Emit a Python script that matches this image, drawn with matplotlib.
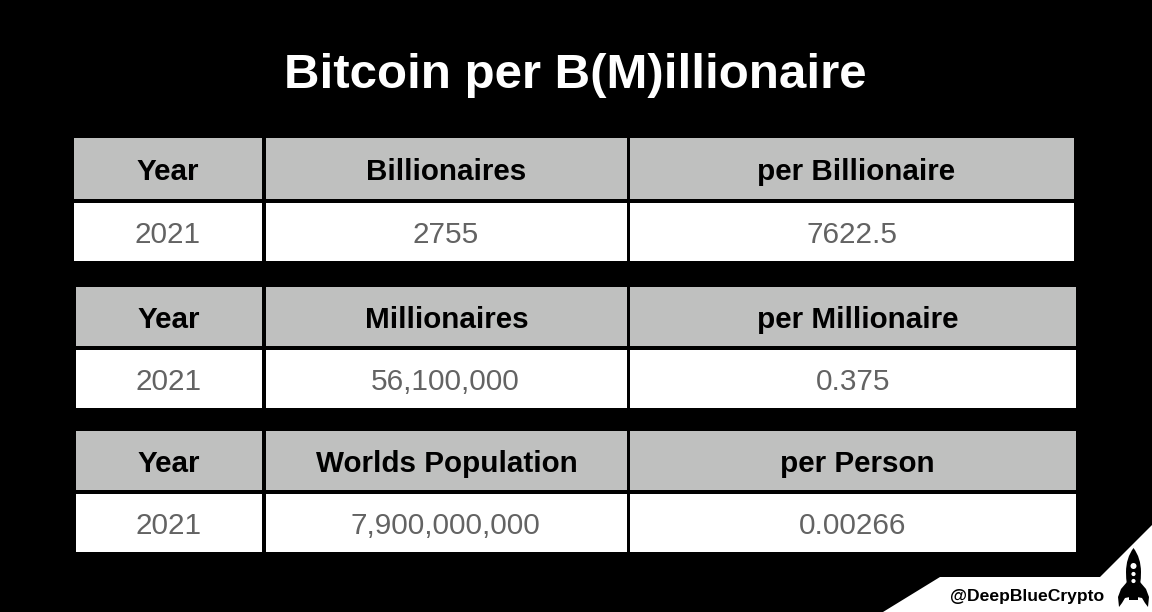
import matplotlib
matplotlib.use('Agg')
import matplotlib.pyplot as plt
from matplotlib.patches import Polygon, Rectangle, Circle, PathPatch
from matplotlib.path import Path

plt.rcParams['font.family'] = ['Liberation Sans', 'DejaVu Sans']

TITLE = 'Bitcoin per B(M)illionaire'
HANDLE = '@DeepBlueCrypto'

# one list per table, header row then value row
headers_1 = ['Year', 'Billionaires', 'per Billionaire']
values_1 = ['2021', '2755', '7622.5']
headers_2 = ['Year', 'Millionaires', 'per Millionaire']
values_2 = ['2021', '56,100,000', '0.375']
headers_3 = ['Year', 'Worlds Population', 'per Person']
values_3 = ['2021', '7,900,000,000', '0.00266']

HEADER_GREY = '#bfc0bf'
VALUE_GREY = '#636363'

# layout in pixels: column edges, header top/bottom, value top/bottom
layout = [
    (headers_1, values_1, [(74, 262), (266, 627), (630, 1074)], (138, 199), (203, 261)),
    (headers_2, values_2, [(76, 262), (266, 627), (630, 1076)], (287, 346), (350, 408)),
    (headers_3, values_3, [(76, 262), (266, 627), (630, 1076)], (431, 490), (494, 552)),
]
# text nudges per column, the source table is not quite centred
header_nudge = [0, 0, 4.5]
value_nudge = [0, -1, 0]

fig = plt.figure(figsize=(11.52, 6.12), dpi=100, facecolor='black')
ax = fig.add_axes([0, 0, 1, 1])
ax.set_xlim(0, 1152)
ax.set_ylim(612, 0)
ax.axis('off')

ax.text(575.5, 75, TITLE, color='white', fontsize=35.5, fontweight='bold',
        ha='center', va='center')

for headers, values, cols, head_y, val_y in layout:
    for i, (x0, x1) in enumerate(cols):
        ax.add_patch(Rectangle((x0, head_y[0]), x1 - x0, head_y[1] - head_y[0],
                               fc=HEADER_GREY, ec='none'))
        ax.add_patch(Rectangle((x0, val_y[0]), x1 - x0, val_y[1] - val_y[0],
                               fc='white', ec='none'))
        xc = (x0 + x1) / 2
        ax.text(xc + header_nudge[i], (head_y[0] + head_y[1]) / 2 + 3, headers[i],
                color='black', fontsize=21.3, fontweight='bold',
                ha='center', va='center')
        ax.text(xc + value_nudge[i], (val_y[0] + val_y[1]) / 2 + 3, values[i],
                color=VALUE_GREY, fontsize=21.4, ha='center', va='center')

# white corner with the handle
ax.add_patch(Polygon([(883, 612), (940, 577), (1100, 577), (1152, 525), (1152, 612)],
                     fc='white', ec='none'))
ax.text(1027, 596, HANDLE, color='black', fontsize=12.6, fontweight='bold',
        ha='center', va='center')

# rocket
body = Path([(1133.5, 548), (1126, 558), (1126, 572), (1126, 585), (1129, 596),
             (1138, 596), (1141, 585), (1141, 572), (1141, 558), (1133.5, 548),
             (1133.5, 548)],
            [Path.MOVETO, Path.CURVE3, Path.CURVE3, Path.CURVE3, Path.CURVE3,
             Path.LINETO, Path.CURVE3, Path.CURVE3, Path.CURVE3, Path.CURVE3,
             Path.CLOSEPOLY])
ax.add_patch(PathPatch(body, fc='black', ec='none'))
ax.add_patch(Polygon([(1127, 582), (1121, 589), (1118, 597), (1119, 607), (1122, 603),
                      (1125, 598), (1130, 597)], fc='black', ec='none'))
ax.add_patch(Polygon([(1140, 582), (1146, 589), (1149, 597), (1148, 607), (1145, 603),
                      (1142, 598), (1137, 597)], fc='black', ec='none'))
ax.add_patch(Rectangle((1129, 595), 8.5, 5, fc='black', ec='none'))
for cy, r in [(566, 3), (574, 2.1), (581, 2.1)]:
    ax.add_patch(Circle((1133.5, cy), r, fc='white', ec='none'))

fig.savefig('out.png', dpi=100, facecolor='black')
